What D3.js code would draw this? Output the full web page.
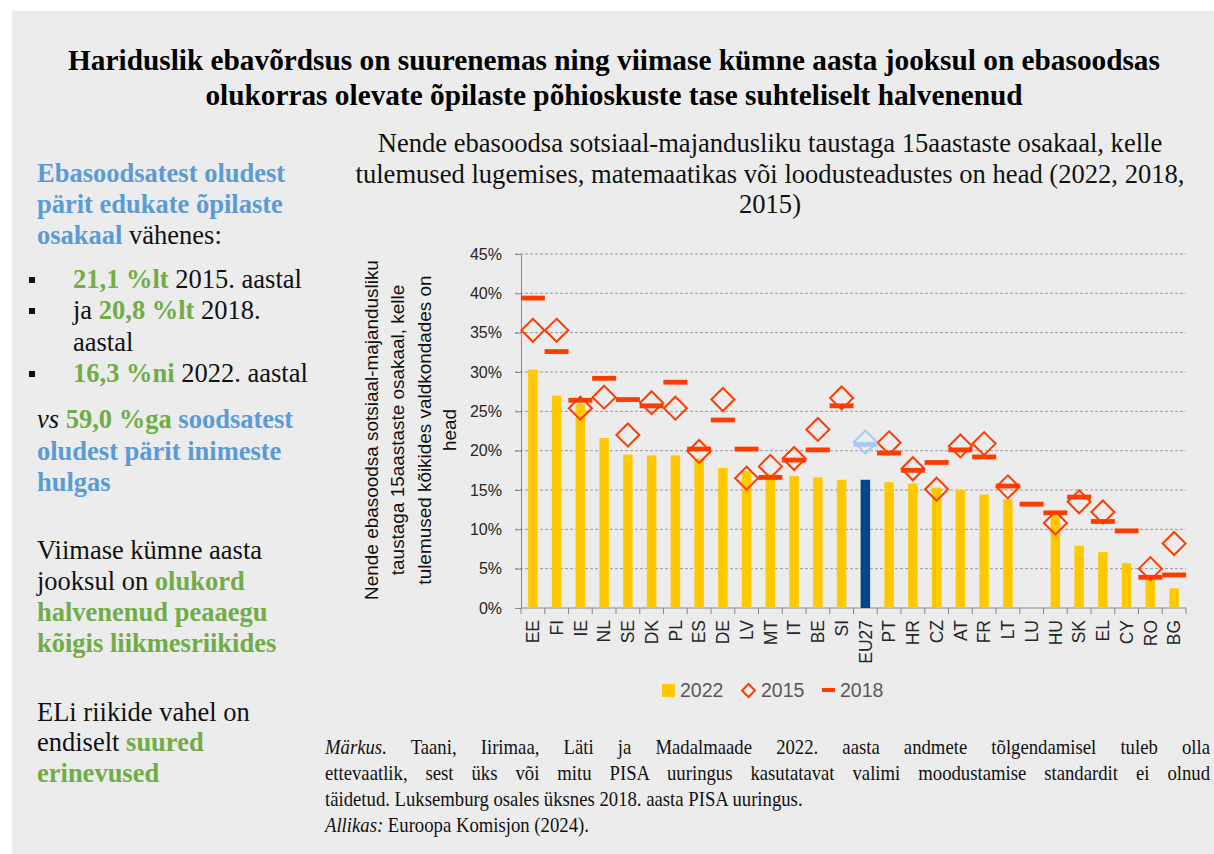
<!DOCTYPE html>
<html>
<head>
<meta charset="utf-8">
<script src="https://cdn.jsdelivr.net/npm/d3@7"></script>
<style>
  body { margin: 0; background: #fff; }
  svg { display: block; }
</style>
</head>
<body>
<svg id="chart" width="1214" height="854"></svg>
<script>
// data (percent)
const countries = ["EE","FI","IE","NL","SE","DK","PL","ES","DE","LV","MT","IT","BE","SI","EU27",
                   "PT","HR","CZ","AT","FR","LT","LU","HU","SK","EL","CY","RO","BG"];
const v2022 = [30.3,27.0,25.9,21.6,19.5,19.4,19.4,19.0,17.8,17.4,17.0,16.8,16.6,16.3,16.3,
               16.0,15.8,15.3,15.0,14.4,13.8,null,11.9,7.9,7.1,5.7,3.8,2.5];
const v2015 = [35.3,35.3,25.4,26.8,22.0,26.1,25.4,19.9,26.5,16.5,18.0,19.0,22.7,26.7,21.1,
               21.0,17.7,15.1,20.6,20.9,15.4,null,10.8,13.5,12.2,null,5.0,8.2];
const v2018 = [39.4,32.6,26.4,29.2,26.5,25.7,28.7,20.2,23.9,20.2,16.6,18.8,20.1,25.7,20.8,
               19.7,17.5,18.5,20.1,19.2,15.5,13.2,12.1,14.1,11.0,9.8,3.9,4.2];
const yTicks = [0,5,10,15,20,25,30,35,40,45];
const seriesNames = ["2022","2015","2018"];

const mainTitle = [
  "Hariduslik ebavõrdsus on suurenemas ning viimase kümne aasta jooksul on ebasoodsas",
  "olukorras olevate õpilaste põhioskuste tase suhteliselt halvenenud"
];
const chartTitle = [
  "Nende ebasoodsa sotsiaal-majandusliku taustaga 15aastaste osakaal, kelle",
  "tulemused lugemises, matemaatikas või loodusteadustes on head (2022, 2018,",
  "2015)"
];
const yTitle = [
  "Nende ebasoodsa sotsiaal-majandusliku",
  "taustaga 15aastaste osakaal, kelle",
  "tulemused kõikides valdkondades on",
  "head"
];

const YELLOW = "#ffc800", NAVY = "#00468c", RED = "#ff3c00", LIGHTBLUE = "#a9cbf2";
const BLUE_TXT = "#5b9bd5", GREEN_TXT = "#70ad47";
const SERIF = "'Liberation Serif', 'Times New Roman', serif";
const SANS = "'Liberation Sans', Arial, sans-serif";

const svg = d3.select("#chart");

svg.append("rect").attr("x", 12).attr("y", 11).attr("width", 1202).attr("height", 843).attr("fill", "#ececec");

function fitFont(sel, w) {
  const fs = parseFloat(sel.style("font-size"));
  const len = sel.node().getComputedTextLength();
  const nfs = fs * w / len;
  sel.style("font-size", nfs + "px");
  return nfs;
}

// main title
const t1 = svg.append("text").attr("x", 614).attr("y", 70).attr("text-anchor", "middle")
  .style("font-family", SERIF).style("font-weight", "bold").style("font-size", "26px")
  .text(mainTitle[0]);
const titleSize = fitFont(t1, 1092);
svg.append("text").attr("x", 614).attr("y", 105).attr("text-anchor", "middle")
  .style("font-family", SERIF).style("font-weight", "bold").style("font-size", titleSize + "px")
  .text(mainTitle[1]);

// chart title
const ct = svg.append("g").style("font-family", SERIF).style("font-size", "22px").attr("fill", "#111");
const ct1 = ct.append("text").attr("x", 770).attr("y", 152).attr("text-anchor", "middle").text(chartTitle[0]);
const ctSize = fitFont(ct1, 785);
ct.append("text").attr("x", 770).attr("y", 183).attr("text-anchor", "middle").style("font-size", ctSize + "px").text(chartTitle[1]);
ct.append("text").attr("x", 770).attr("y", 213).attr("text-anchor", "middle").style("font-size", ctSize + "px").text(chartTitle[2]);

// scales
const x = d3.scaleBand().domain(countries).range([521, 1186]);
const y = d3.scaleLinear().domain([0, 45]).range([608, 254]);

// gridlines
svg.append("g").selectAll("line").data(yTicks.slice(1)).join("line")
  .attr("x1", 515).attr("x2", 1186)
  .attr("y1", d => y(d)).attr("y2", d => y(d))
  .attr("stroke", "#9a9a9a").attr("stroke-width", 1).attr("stroke-dasharray", "3,2");

// y axis
const yAxis = svg.append("g").attr("transform", "translate(521,0)")
  .call(d3.axisLeft(y).tickValues(yTicks).tickFormat(d => d + "%").tickSize(6).tickPadding(13));
yAxis.select(".domain").attr("stroke", "#888");
yAxis.selectAll(".tick line").attr("stroke", "#888");
yAxis.selectAll("text").style("font-family", SANS).style("font-size", "16px").attr("fill", "#262626");

// x axis
const xAxis = svg.append("g").attr("transform", "translate(0,608)");
xAxis.append("line").attr("x1", 521).attr("x2", 1186).attr("stroke", "#888");
xAxis.selectAll(".xt").data(countries.concat(["_end"])).join("line").attr("class", "xt")
  .attr("x1", (d, i) => i < countries.length ? x(d) : x.range()[1])
  .attr("x2", (d, i) => i < countries.length ? x(d) : x.range()[1])
  .attr("y1", 0).attr("y2", 6).attr("stroke", "#888");
xAxis.selectAll(".xl").data(countries).join("text").attr("class", "xl")
  .attr("transform", d => `translate(${x(d) + x.bandwidth() / 2},12) rotate(-90)`)
  .attr("text-anchor", "end").attr("dy", "0.36em")
  .style("font-family", SANS).style("font-size", "17.5px").attr("fill", "#262626")
  .text(d => d);

const rows = countries.map((c, i) => ({ c, a: v2022[i], b: v2015[i], d: v2018[i] }));
const barW = 9.5;

// bars 2022
svg.append("g").selectAll("rect").data(rows.filter(r => r.a != null)).join("rect")
  .attr("x", r => x(r.c) + x.bandwidth() / 2 - barW / 2)
  .attr("width", barW)
  .attr("y", r => y(r.a))
  .attr("height", r => y(0) - y(r.a))
  .attr("fill", r => r.c === "EU27" ? NAVY : YELLOW);

// diamonds 2015
const dr = 11.5;
svg.append("g").selectAll("path").data(rows.filter(r => r.b != null)).join("path")
  .attr("transform", r => `translate(${x(r.c) + x.bandwidth() / 2},${y(r.b)})`)
  .attr("d", `M0,${-dr}L${dr},0L0,${dr}L${-dr},0Z`)
  .attr("fill", "none")
  .attr("stroke", r => r.c === "EU27" ? LIGHTBLUE : RED)
  .attr("stroke-width", 2);

// dashes 2018
svg.append("g").selectAll("rect").data(rows.filter(r => r.d != null)).join("rect")
  .attr("x", r => x(r.c) + x.bandwidth() / 2 - 12)
  .attr("width", 24)
  .attr("y", r => y(r.d) - 2.4)
  .attr("height", 4.8)
  .attr("fill", r => r.c === "EU27" ? LIGHTBLUE : RED);

// y title
const yt = svg.append("g").attr("transform", "rotate(-90)")
  .style("font-family", SANS).style("font-size", "17px").attr("fill", "#111");
const ytX = [371, 397, 424, 449];
const ytl = yt.selectAll("text").data(yTitle).join("text")
  .attr("x", -430).attr("y", (d, i) => ytX[i]).attr("dy", "0.35em")
  .attr("text-anchor", "middle").text(d => d);
const ytSize = fitFont(d3.select(ytl.nodes()[0]), 340);
ytl.style("font-size", ytSize + "px");

// legend
const lg = svg.append("g").style("font-family", SANS).style("font-size", "19.5px").attr("fill", "#595959");
lg.append("rect").attr("x", 662).attr("y", 684).attr("width", 13).attr("height", 13).attr("fill", YELLOW);
lg.append("text").attr("x", 680).attr("y", 697).text(seriesNames[0]);
lg.append("path").attr("transform", "translate(748.5,690.5)").attr("d", "M0,-6.5L6.5,0L0,6.5L-6.5,0Z")
  .attr("fill", "none").attr("stroke", RED).attr("stroke-width", 2);
lg.append("text").attr("x", 761).attr("y", 697).text(seriesNames[1]);
lg.append("rect").attr("x", 822).attr("y", 688).attr("width", 13).attr("height", 4).attr("fill", RED);
lg.append("text").attr("x", 840).attr("y", 697).text(seriesNames[2]);

// left panel text
const left = svg.append("g").style("font-family", SERIF).style("font-size", "26.5px").attr("fill", "#111");
const B = { w: "bold", c: BLUE_TXT }, G = { w: "bold", c: GREEN_TXT }, N = {}, I = { s: "italic" };
const leftLines = [
  [37, 182, [["Ebasoodsatest oludest", B]]],
  [37, 213, [["pärit edukate õpilaste", B]]],
  [37, 244, [["osakaal", B], [" vähenes:", N]]],
  [73, 288, [["21,1 %lt", G], [" 2015. aastal", N]]],
  [73, 319, [["ja ", N], ["20,8 %lt", G], [" 2018.", N]]],
  [73, 351, [["aastal", N]]],
  [73, 382, [["16,3 %ni", G], [" 2022. aastal", N]]],
  [37, 428, [["vs", I], [" ", N], ["59,0 %ga", G], [" soodsatest", B]]],
  [37, 460, [["oludest pärit inimeste", B]]],
  [37, 491, [["hulgas", B]]],
  [37, 559, [["Viimase kümne aasta", N]]],
  [37, 590, [["jooksul on ", N], ["olukord", G]]],
  [37, 621, [["halvenenud peaaegu", G]]],
  [37, 652, [["kõigis liikmesriikides", G]]],
  [37, 721, [["ELi riikide vahel on", N]]],
  [37, 751, [["endiselt ", N], ["suured", G]]],
  [37, 782, [["erinevused", G]]]
];
leftLines.forEach(([lx, ly, parts]) => {
  const t = left.append("text").attr("x", lx).attr("y", ly);
  parts.forEach(([s, st]) => {
    const ts = t.append("tspan").text(s);
    if (st.w) ts.style("font-weight", st.w);
    if (st.c) ts.attr("fill", st.c);
    if (st.s) ts.style("font-style", st.s);
  });
});
[288, 319, 382].forEach(by => {
  left.append("rect").attr("x", 29).attr("y", by - 11).attr("width", 6).attr("height", 6).attr("fill", "#111");
});

// note (condensed serif, first two lines justified)
const note = svg.append("g").style("font-family", SERIF).style("font-size", "21px").attr("fill", "#111");
const noteLines = [
  [754, [["Märkus.", I], [" Taani, Iirimaa, Läti ja Madalmaade 2022. aasta andmete tõlgendamisel tuleb olla", N]], true],
  [780, [["ettevaatlik, sest üks või mitu PISA uuringus kasutatavat valimi moodustamise standardit ei olnud", N]], true],
  [806, [["täidetud. Luksemburg osales üksnes 2018. aasta PISA uuringus.", N]], false],
  [832, [["Allikas:", I], [" Euroopa Komisjon (2024).", N]], false]
];
const noteTexts = noteLines.map(([ny, parts, just]) => {
  const t = note.append("text").attr("x", 0).attr("y", ny);
  parts.forEach(([s, st]) => {
    const ts = t.append("tspan").text(s);
    if (st.s) ts.style("font-style", st.s);
  });
  return { t, just };
});
const sx = 478 / noteTexts[2].t.node().getComputedTextLength();
note.attr("transform", `translate(325,0) scale(${sx},1)`);
noteTexts.forEach(({ t, just }) => {
  if (!just) return;
  const len = t.node().getComputedTextLength();
  const spaces = (t.text().match(/ /g) || []).length;
  t.attr("word-spacing", (885 / sx - len) / spaces);
});
</script>
</body>
</html>
